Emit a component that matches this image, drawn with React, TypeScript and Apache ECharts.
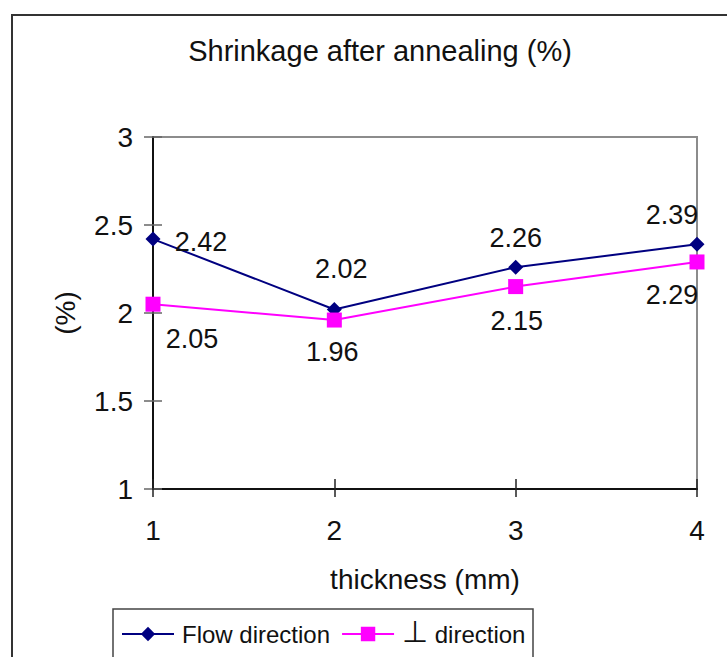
import React, { useEffect, useRef } from "react";
import * as echarts from "echarts";

const titleText = "Shrinkage after annealing (%)";
const thickness = [1, 2, 3, 4];
const flowValues = [2.42, 2.02, 2.26, 2.39];
const perpValues = [2.05, 1.96, 2.15, 2.29];
const seriesNames = ["Flow direction", "⊥ direction"];
const yTicks = { min: 1, max: 3, interval: 0.5 };
const xTicks = { min: 1, max: 4, interval: 1 };
const xName = "thickness (mm)";
const yName = "(%)";

// label offsets (styling only), relative to each point's centre
const flowLabelOffsets = [[48, 3], [7, -40], [0, -29], [-25, -29]];
const perpLabelOffsets = [[39, 35], [-2, 32], [1, 34], [-25, 33]];

const FONT = "'Liberation Sans', Arial, sans-serif";

export default function App() {
  const ref = useRef<HTMLDivElement>(null);
  useEffect(() => {
    if (!ref.current) return;
    const chart = echarts.init(ref.current, null, { renderer: "svg" });
    const mk = (vals: number[], offs: number[][]) =>
      vals.map((v, i) => ({
        value: [thickness[i], v],
        label: { offset: offs[i] },
      }));
    const labelBase = {
      show: true,
      position: "inside",
      color: "#111",
      fontSize: 27,
      fontFamily: FONT,
      formatter: (p: any) => p.value[1].toFixed(2),
    };
    chart.setOption({
      animation: false,
      backgroundColor: "#fff",
      textStyle: { fontFamily: FONT },
      title: {
        text: titleText,
        left: 380,
        top: 36,
        textAlign: "center",
        padding: 0,
        textStyle: { fontSize: 29, fontWeight: "normal", color: "#111", fontFamily: FONT },
      },
      graphic: [
        {
          type: "rect",
          shape: { x: 12, y: 15, width: 760, height: 700 },
          style: { fill: "none", stroke: "#333", lineWidth: 2 },
          silent: true,
          z: -10,
        },
        {
          type: "rect",
          shape: { x: 113, y: 609, width: 420, height: 80 },
          style: { fill: "none", stroke: "#444", lineWidth: 1.5 },
          silent: true,
        },
      ],
      legend: {
        left: 121,
        top: 616,
        padding: 0,
        itemWidth: 52,
        itemHeight: 18,
        itemGap: 11,
        formatter: (name: string) =>
          name.startsWith("⊥") ? "{p|⊥}" + name.slice(1) : name,
        textStyle: {
          fontSize: 24,
          color: "#111",
          fontFamily: FONT,
          lineHeight: 28,
          padding: [0, 0, 0, 3],
          rich: {
            p: { fontSize: 30, fontFamily: FONT, color: "#111", lineHeight: 28, padding: [0, 0, 6, 0] },
          },
        },
        data: seriesNames,
      },
      grid: {
        left: 153,
        top: 137,
        right: 30,
        bottom: 168,
        show: true,
        borderColor: "#8c8c8c",
        borderWidth: 2,
        backgroundColor: "#fff",
      },
      xAxis: [
        {
          type: "value",
          min: xTicks.min,
          max: xTicks.max,
          interval: xTicks.interval,
          name: xName,
          nameLocation: "middle",
          nameGap: 76,
          nameTextStyle: { fontSize: 28, color: "#111", fontFamily: FONT },
          axisLine: { show: true, lineStyle: { color: "#111", width: 2 } },
          axisTick: { show: true, length: 8, lineStyle: { color: "#222", width: 1.5 } },
          axisLabel: { fontSize: 28, color: "#111", margin: 27, fontFamily: FONT },
          splitLine: { show: false },
        },
        {
          type: "value",
          position: "bottom",
          min: xTicks.min,
          max: xTicks.max,
          interval: xTicks.interval,
          axisLine: { show: false },
          axisTick: { show: true, inside: true, length: 10, lineStyle: { color: "#222", width: 1.5 } },
          axisLabel: { show: false },
          splitLine: { show: false },
        },
      ],
      yAxis: [
        {
          type: "value",
          min: yTicks.min,
          max: yTicks.max,
          interval: yTicks.interval,
          name: yName,
          nameLocation: "middle",
          nameGap: 74,
          nameTextStyle: { fontSize: 28, color: "#111", fontFamily: FONT },
          axisLine: { show: true, lineStyle: { color: "#111", width: 2 } },
          axisTick: { show: true, length: 9, lineStyle: { color: "#666", width: 1.5 } },
          axisLabel: { fontSize: 28, color: "#111", margin: 20, fontFamily: FONT },
          splitLine: { show: false },
        },
        {
          type: "value",
          position: "left",
          min: yTicks.min,
          max: yTicks.max,
          interval: yTicks.interval,
          axisLine: { show: false },
          axisTick: { show: true, inside: true, length: 9, lineStyle: { color: "#666", width: 1.5 } },
          axisLabel: { show: false },
          splitLine: { show: false },
        },
      ],
      series: [
        {
          name: seriesNames[0],
          type: "line",
          xAxisIndex: 0,
          yAxisIndex: 0,
          data: mk(flowValues, flowLabelOffsets),
          symbol: "diamond",
          symbolSize: 15,
          lineStyle: { color: "#000080", width: 2 },
          itemStyle: { color: "#000080" },
          label: labelBase,
          z: 3,
        },
        {
          name: seriesNames[1],
          type: "line",
          xAxisIndex: 0,
          yAxisIndex: 0,
          data: mk(perpValues, perpLabelOffsets),
          symbol: "rect",
          symbolSize: 15,
          lineStyle: { color: "#ff00ff", width: 2 },
          itemStyle: { color: "#ff00ff" },
          label: labelBase,
          z: 4,
        },
      ],
    });
    return () => chart.dispose();
  }, []);
  return (
    <div
      ref={ref}
      style={{ position: "absolute", left: 0, top: 0, width: 727, height: 657 }}
    />
  );
}
